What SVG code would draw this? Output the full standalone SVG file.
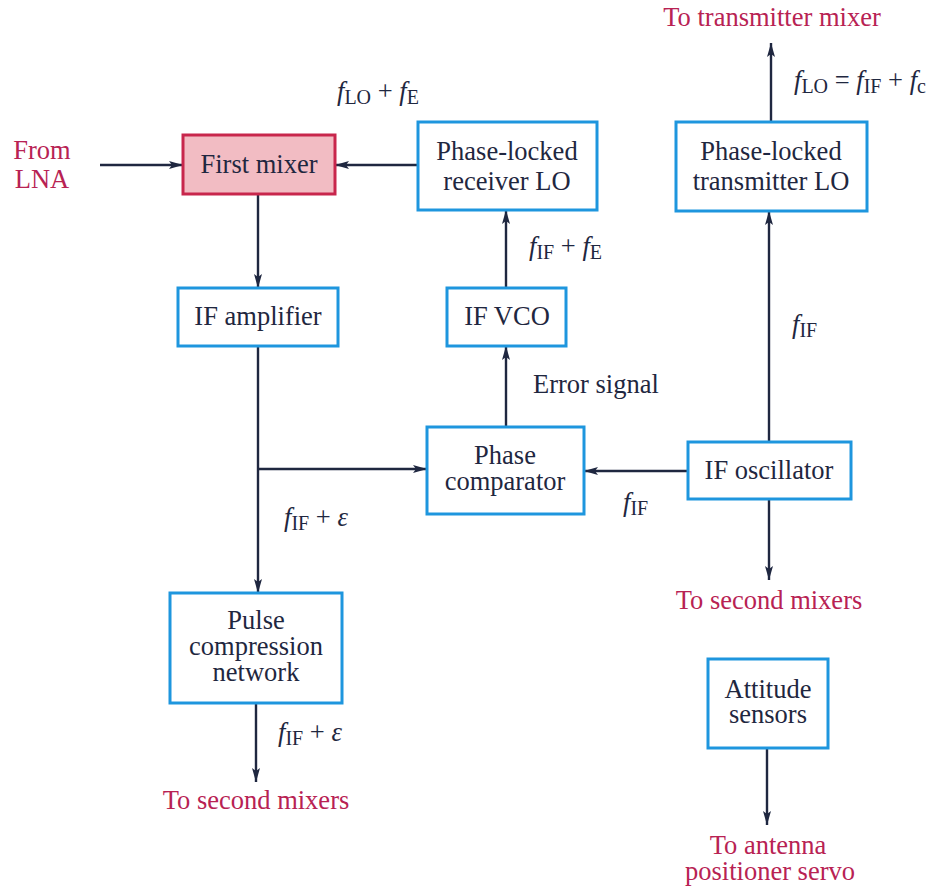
<svg xmlns="http://www.w3.org/2000/svg" width="937" height="886" viewBox="0 0 937 886">
<style>
.box{fill:#fff;stroke:#1e96de;stroke-width:3}
.mix{fill:#f2bcc3;stroke:#c8264c;stroke-width:3}
.t{font-family:"Liberation Serif","Times New Roman",serif;font-size:26.5px;fill:#1f2740;text-anchor:middle}
.l{font-family:"Liberation Serif","Times New Roman",serif;font-size:26.5px;fill:#1f2740}
.r{font-family:"Liberation Serif","Times New Roman",serif;font-size:26.5px;fill:#b82253;text-anchor:middle}
.i{font-style:italic}
.s{font-size:20px}
.c{fill:none;stroke:#1f2740;stroke-width:2.4}
</style>
<defs>
<marker id="ah" viewBox="0 0 14 8" refX="14" refY="4" markerWidth="14" markerHeight="8" markerUnits="userSpaceOnUse" orient="auto">
<path d="M0,0 L14,4 L0,8 L3,4 Z" fill="#1f2740"/>
</marker>
</defs>
<g id="connectors">
<path class="c" d="M100,165 H183" marker-end="url(#ah)"/>
<path class="c" d="M418,165 H335" marker-end="url(#ah)"/>
<path class="c" d="M258,194 V288" marker-end="url(#ah)"/>
<path class="c" d="M258,346 V593" marker-end="url(#ah)"/>
<path class="c" d="M258,469 H427" marker-end="url(#ah)"/>
<path class="c" d="M506,427 V346" marker-end="url(#ah)"/>
<path class="c" d="M506,288 V210" marker-end="url(#ah)"/>
<path class="c" d="M688,471 H584" marker-end="url(#ah)"/>
<path class="c" d="M769,442 V211" marker-end="url(#ah)"/>
<path class="c" d="M771,122 V43" marker-end="url(#ah)"/>
<path class="c" d="M769,499 V580" marker-end="url(#ah)"/>
<path class="c" d="M256,703 V782" marker-end="url(#ah)"/>
<path class="c" d="M767,748 V825" marker-end="url(#ah)"/>
</g>
<g id="first-mixer">
<rect class="mix" x="183" y="135" width="152" height="59"/>
<text class="t" x="259" y="173">First mixer</text>
</g>
<g id="receiver-lo">
<rect class="box" x="418" y="122" width="179" height="88"/>
<text class="t" x="507" y="160">Phase-locked</text>
<text class="t" x="507" y="190">receiver LO</text>
</g>
<g id="transmitter-lo">
<rect class="box" x="676" y="122" width="191" height="89"/>
<text class="t" x="771" y="160">Phase-locked</text>
<text class="t" x="771" y="190">transmitter LO</text>
</g>
<g id="if-amplifier">
<rect class="box" x="178" y="288" width="160" height="58"/>
<text class="t" x="258" y="325">IF amplifier</text>
</g>
<g id="if-vco">
<rect class="box" x="447" y="288" width="119" height="58"/>
<text class="t" x="507" y="325">IF VCO</text>
</g>
<g id="phase-comparator">
<rect class="box" x="427" y="427" width="157" height="87"/>
<text class="t" x="505" y="464">Phase</text>
<text class="t" x="505" y="490">comparator</text>
</g>
<g id="if-oscillator">
<rect class="box" x="688" y="442" width="163" height="57"/>
<text class="t" x="769" y="479">IF oscillator</text>
</g>
<g id="pulse-compression">
<rect class="box" x="170" y="593" width="172" height="110"/>
<text class="t" x="256" y="629">Pulse</text>
<text class="t" x="256" y="655">compression</text>
<text class="t" x="256" y="681">network</text>
</g>
<g id="attitude-sensors">
<rect class="box" x="708" y="659" width="120" height="89"/>
<text class="t" x="768" y="698">Attitude</text>
<text class="t" x="768" y="723">sensors</text>
</g>
<g id="labels">
<text class="r" x="42" y="159">From</text>
<text class="r" x="42" y="188">LNA</text>
<text class="r" x="772" y="26">To transmitter mixer</text>
<text class="r" x="769" y="609">To second mixers</text>
<text class="r" x="256" y="809">To second mixers</text>
<text class="r" x="768" y="854">To antenna</text>
<text class="r" x="770" y="880">positioner servo</text>
<text class="l" x="337" y="100"><tspan class="i">f</tspan><tspan class="s" dy="4">LO</tspan><tspan dy="-4"> + </tspan><tspan class="i">f</tspan><tspan class="s" dy="4">E</tspan></text>
<text class="l" x="794" y="89"><tspan class="i">f</tspan><tspan class="s" dy="4">LO</tspan><tspan dy="-4"> = </tspan><tspan class="i">f</tspan><tspan class="s" dy="4">IF</tspan><tspan dy="-4"> + </tspan><tspan class="i">f</tspan><tspan class="s" dy="4">c</tspan></text>
<text class="l" x="529" y="255"><tspan class="i">f</tspan><tspan class="s" dy="4">IF</tspan><tspan dy="-4"> + </tspan><tspan class="i">f</tspan><tspan class="s" dy="4">E</tspan></text>
<text class="l" x="533" y="393">Error signal</text>
<text class="l" x="792" y="333"><tspan class="i">f</tspan><tspan class="s" dy="4">IF</tspan></text>
<text class="l" x="623" y="511"><tspan class="i">f</tspan><tspan class="s" dy="4">IF</tspan></text>
<text class="l" x="284" y="526"><tspan class="i">f</tspan><tspan class="s" dy="4">IF</tspan><tspan dy="-4"> + </tspan><tspan class="i">ε</tspan></text>
<text class="l" x="278" y="741"><tspan class="i">f</tspan><tspan class="s" dy="4">IF</tspan><tspan dy="-4"> + </tspan><tspan class="i">ε</tspan></text>
</g>
</svg>
